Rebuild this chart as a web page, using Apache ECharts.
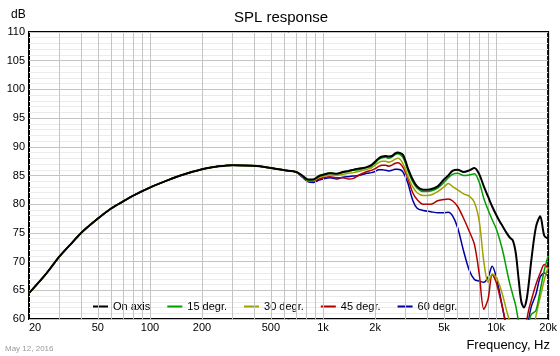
<!DOCTYPE html>
<html><head><meta charset="utf-8">
<script src="https://cdn.jsdelivr.net/npm/echarts@6/dist/echarts.min.js"></script>
<style>html,body{margin:0;padding:0;background:#fff}#c{width:560px;height:356px}</style>
</head><body><div id="c"></div>
<script>
// Frequencies (Hz)
const freq = [20,25,30,35,40,50,60,70,80,100,125,150,200,250,300,400,500,600,700,
  760,820,880,950,1000,
  1100,1200,1300,1400,1500,1600,1700,1800,1900,2000,2100,2200,2300,2400,2500,2600,2700,2800,2900,3000,
  3100,3300,3500,3800,4200,4600,
  5000,5300,5600,6000,6500,7000,7500,8000,8500,9000,9500,10000,
  10500,11000,11500,12000,12500,13000,13500,14000,14500,15000,15500,16000,
  17000,18000,19000,20000];

// Shared low-frequency part (all curves coincide below ~700 Hz)
const lowPart = [64.5,67.8,70.9,73.1,75.0,77.5,79.3,80.5,81.5,82.9,84.1,85.0,86.1,86.6,86.8,86.7,86.3,85.9,85.6];

const onAxis = lowPart.concat([
  85.0,84.3,84.3,84.9,85.1,
  85.4,85.3,85.6,85.8,86.0,86.2,86.3,86.5,86.8,87.4,88.0,88.3,88.4,88.3,88.4,88.8,89.0,88.9,88.6,87.5,
  86.2,84.3,83.1,82.5,82.6,83.1,
  84.3,85.0,85.8,86.0,85.6,85.9,86.3,85.2,83.1,81.3,79.6,78.2,
  77.0,76.0,75.0,74.2,73.7,71.5,67.0,63.0,62.0,63.3,66.5,70.3,
  76.0,77.9,74.5,74.0]);

const deg15 = lowPart.concat([
  84.9,84.2,84.3,85.0,85.2,
  85.5,85.3,85.5,85.7,85.9,86.0,86.2,86.4,86.6,87.2,87.8,88.1,88.2,88.0,88.2,88.6,88.8,88.6,88.1,87.1,
  85.8,83.9,82.8,82.2,82.3,82.8,
  83.8,84.6,85.2,85.4,85.0,85.1,85.3,83.8,81.0,79.0,77.3,75.8,
  73.8,71.5,68.7,66.2,64.2,62.3,59.5,57.5,57.0,57.5,59.5,60.8,
  61.5,65.0,68.5,71.0]);

const deg30 = lowPart.concat([
  84.9,84.1,84.1,84.7,84.9,
  85.1,85.0,85.2,85.4,85.5,85.7,85.9,86.1,86.3,86.8,87.3,87.5,87.5,87.3,87.5,87.8,88.0,87.8,87.0,86.0,
  84.8,83.0,82.0,81.5,81.6,82.2,
  83.0,83.6,83.1,82.5,81.8,81.4,80.3,77.0,70.0,66.4,67.8,67.3,
  65.8,63.8,61.5,59.5,57.0,56.0,56.0,56.0,56.0,56.0,56.0,56.0,
  60.5,63.8,66.8,69.0]);

const deg45 = lowPart.concat([
  84.8,84.0,84.0,84.4,84.6,
  84.8,84.6,84.6,84.4,84.5,85.0,85.4,85.7,85.9,86.2,86.6,86.8,86.8,86.6,86.8,87.1,87.2,87.0,86.4,85.5,
  84.4,82.0,80.8,80.0,80.0,80.6,
  80.8,80.9,80.6,79.6,77.5,75.3,73.0,67.8,61.7,63.5,67.8,66.5,
  64.0,61.5,58.0,56.0,56.0,56.0,56.0,56.0,56.0,59.5,61.8,63.3,
  66.0,68.0,69.5,68.8]);

const deg60 = lowPart.concat([
  84.7,83.9,83.8,84.2,84.4,
  84.6,84.4,84.7,84.8,84.9,85.0,85.2,85.4,85.5,85.7,86.0,86.0,85.9,85.8,85.9,86.1,86.1,86.0,85.6,84.7,
  83.6,80.7,79.3,78.9,78.7,78.5,
  78.5,78.6,78.0,75.9,71.8,68.5,66.9,66.6,66.4,67.3,69.2,67.5,
  64.5,61.3,59.0,57.0,57.0,57.0,57.0,57.0,57.0,57.0,60.2,62.2,
  64.3,67.3,68.0,67.5]);

const xTickLabels = [20,50,100,200,500,1000,2000,5000,10000,20000];
const seriesNames = ['On axis','15 degr.','30 degr.','45 degr.','60 degr.'];
const seriesValues = [onAxis, deg15, deg30, deg45, deg60];
const seriesColors = ['#000000','#00a000','#a0a000','#b00000','#0000a0'];
const seriesWidths = [2, 1.5, 1.5, 1.5, 1.5];

// vertical grid lines at every 1..9 multiple of each decade
const vGrid = [];
for (let d = 10; d <= 10000; d *= 10) {
  for (let m = 1; m <= 9; m++) {
    const v = d * m;
    if (v > 20 && v < 20000) vGrid.push(v);
  }
}

const font = '"Liberation Sans", Arial, sans-serif';
const chart = echarts.init(document.getElementById('c'), null, {renderer: 'canvas'});

const series = [];
series.push({
  name: '_grid', type: 'line', data: [], z: 1, silent: true,
  markLine: {
    silent: true, animation: false, symbol: ['none', 'none'],
    label: {show: false},
    lineStyle: {color: '#c4c4c4', width: 1, type: 'solid'},
    emphasis: {disabled: true},
    data: vGrid.map(v => ({xAxis: v}))
  }
});
for (let i = seriesNames.length - 1; i >= 0; i--) {
  series.push({
    name: seriesNames[i], type: 'line', z: 3 + (seriesNames.length - i),
    data: freq.map((f, k) => [f, seriesValues[i][k]]),
    showSymbol: false, symbol: 'none', smooth: 0.3, clip: true,
    lineStyle: {color: seriesColors[i], width: seriesWidths[i]},
    itemStyle: {color: seriesColors[i]},
    animation: false
  });
}

chart.setOption({
  animation: false,
  backgroundColor: '#ffffff',
  title: [
    {text: 'SPL response', left: 281, top: 10, textAlign: 'center', padding: 0,
     textStyle: {fontFamily: font, fontSize: 15, fontWeight: 'normal', color: '#000'}},
    {text: 'dB', left: 11, top: 9, padding: 0,
     textStyle: {fontFamily: font, fontSize: 12, fontWeight: 'normal', color: '#000'}},
    {text: 'Frequency, Hz', right: 10, top: 339, padding: 0,
     textStyle: {fontFamily: font, fontSize: 13, fontWeight: 'normal', color: '#000'}},
    {text: 'May 12, 2016', left: 5, top: 345, padding: 0,
     textStyle: {fontFamily: font, fontSize: 8, fontWeight: 'normal', color: '#9a9a9a'}}
  ],
  legend: {
    data: seriesNames,
    left: 93, top: 301, orient: 'horizontal', padding: 0,
    icon: 'rect', itemWidth: 15, itemHeight: 2, itemGap: 17,
    textStyle: {fontFamily: font, fontSize: 11, color: '#000'},
    selectedMode: false
  },
  grid: {left: 29, right: 11, top: 32, bottom: 37, show: true, borderColor: '#000', borderWidth: 2, backgroundColor: 'transparent'},
  xAxis: {
    type: 'log', logBase: 10, min: 20, max: 20000,
    axisLine: {show: false}, axisTick: {show: false}, splitLine: {show: false},
    axisLabel: {
      customValues: xTickLabels,
      formatter: v => v >= 1000 ? (Math.round(v / 1000) + 'k') : String(Math.round(v)),
      fontFamily: font, fontSize: 11, color: '#000', margin: 3,
      alignMinLabel: 'left'
    }
  },
  yAxis: {
    type: 'value', min: 60, max: 110, interval: 5,
    axisLine: {show: false}, axisTick: {show: false},
    axisLabel: {fontFamily: font, fontSize: 11, color: '#000', margin: 4},
    splitLine: {show: true, lineStyle: {color: '#c4c4c4', width: 1}},
    minorTick: {show: false, splitNumber: 5},
    minorSplitLine: {show: true, lineStyle: {color: '#ebebeb', width: 1}}
  },
  series: series
});
</script></body></html>
